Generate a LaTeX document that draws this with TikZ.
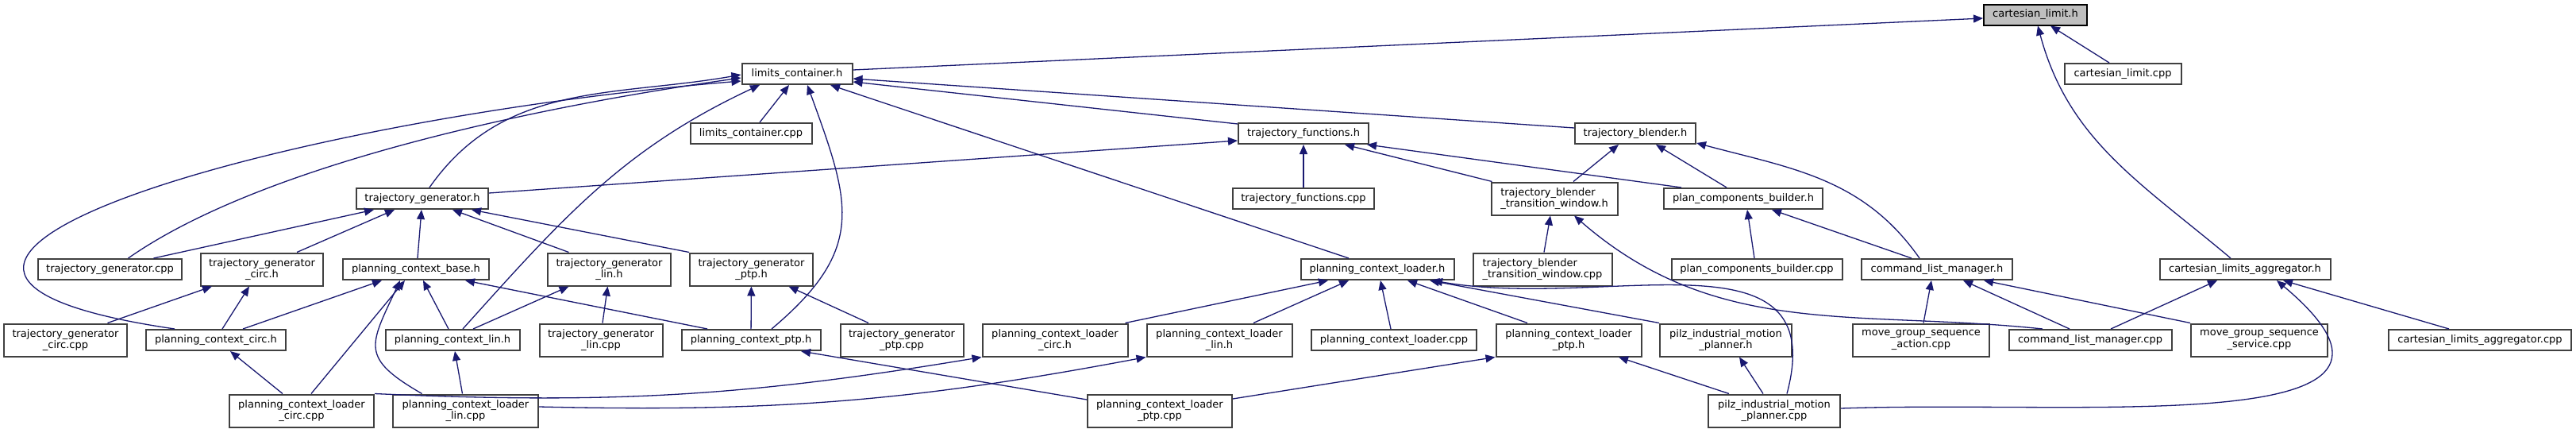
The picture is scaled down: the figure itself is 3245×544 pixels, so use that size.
\documentclass[tikz,border=0pt]{standalone}
\usepackage{fontspec}
\setmainfont{DejaVu Sans}
\usetikzlibrary{arrows.meta}

\definecolor{edgeblue}{HTML}{191970}
\definecolor{rootgray}{HTML}{BFBFBF}
\definecolor{boxline}{HTML}{404040}

\tikzset{
filebox/.style={draw=boxline, line width=2pt, fill=white, minimum height=26pt,
  inner xsep=0pt, inner ysep=2pt, align=center, font=\fontsize{13}{14.5}\selectfont},
twoline/.style={filebox, minimum height=41pt},
rootbox/.style={filebox, draw=black, fill=rootgray},
dep/.style={draw=edgeblue, line width=1.3pt, -{Triangle[length=12pt,width=10pt]}}
}

\begin{document}
\begin{tikzpicture}[x=1pt,y=1pt]

\useasboundingbox (0,0) rectangle (3245,-544);

%%%%%%%%%%%%%%%%%%%%%%%%%%%%%%%%%%%%%%%%%%%%%%%%%%%%%%%%%%
% ROOT AND UPPER HEADERS
%%%%%%%%%%%%%%%%%%%%%%%%%%%%%%%%%%%%%%%%%%%%%%%%%%%%%%%%%%

\node[rootbox, minimum width=130pt](climit) at (2564,-18.5) {cartesian\_limit.h};
\node[filebox, minimum width=139pt](lcont) at (1004,-93) {limits\_container.h};
\node[filebox, minimum width=147pt](climitcpp) at (2674,-93) {cartesian\_limit.cpp};
\node[filebox, minimum width=153pt](lcontcpp) at (946,-168) {limits\_container.cpp};
\node[filebox, minimum width=164pt](tfun) at (1642,-168) {trajectory\_functions.h};
\node[filebox, minimum width=152pt](tblend) at (2060,-168) {trajectory\_blender.h};

%%%%%%%%%%%%%%%%%%%%%%%%%%%%%%%%%%%%%%%%%%%%%%%%%%%%%%%%%%
% GENERATOR / BLENDER LEVEL
%%%%%%%%%%%%%%%%%%%%%%%%%%%%%%%%%%%%%%%%%%%%%%%%%%%%%%%%%%

\node[filebox, minimum width=166pt](tgen) at (532,-250) {trajectory\_generator.h};
\node[filebox, minimum width=178pt](tfuncpp) at (1642,-250) {trajectory\_functions.cpp};
\node[twoline, align=left, minimum width=159pt](tbtw) at (1958,-250) {trajectory\_blender\\\_transition\_window.h};
\node[filebox, minimum width=200pt](pcbld) at (2196,-250) {plan\_components\_builder.h};

%%%%%%%%%%%%%%%%%%%%%%%%%%%%%%%%%%%%%%%%%%%%%%%%%%%%%%%%%%
% CONTEXT LEVEL
%%%%%%%%%%%%%%%%%%%%%%%%%%%%%%%%%%%%%%%%%%%%%%%%%%%%%%%%%%

\node[filebox, minimum width=181pt](tgencpp) at (138.5,-339) {trajectory\_generator.cpp};
\node[twoline, minimum width=154pt](tgcirc) at (330,-339) {trajectory\_generator\\\_circ.h};
\node[filebox, minimum width=184pt](pcbase) at (524,-339) {planning\_context\_base.h};
\node[twoline, minimum width=155pt](tglin) at (767.5,-339) {trajectory\_generator\\\_lin.h};
\node[twoline, minimum width=155pt](tgptp) at (946.5,-339) {trajectory\_generator\\\_ptp.h};
\node[filebox, minimum width=193pt](pcload) at (1735,-339) {planning\_context\_loader.h};
\node[twoline, align=left, minimum width=175pt](tbtwcpp) at (1943,-339) {trajectory\_blender\\\_transition\_window.cpp};
\node[filebox, minimum width=215pt](pcbldcpp) at (2213,-339) {plan\_components\_builder.cpp};
\node[filebox, minimum width=190pt](clman) at (2440,-339) {command\_list\_manager.h};
\node[filebox, minimum width=215pt](cagg) at (2828,-339) {cartesian\_limits\_aggregator.h};

%%%%%%%%%%%%%%%%%%%%%%%%%%%%%%%%%%%%%%%%%%%%%%%%%%%%%%%%%%
% LOADER LEVEL
%%%%%%%%%%%%%%%%%%%%%%%%%%%%%%%%%%%%%%%%%%%%%%%%%%%%%%%%%%

\node[twoline, minimum width=155pt](tgcirccpp) at (82.5,-428) {trajectory\_generator\\\_circ.cpp};
\node[filebox, minimum width=176pt](pccirc) at (272,-428) {planning\_context\_circ.h};
\node[filebox, minimum width=169pt](pclin) at (570,-428) {planning\_context\_lin.h};
\node[twoline, minimum width=155pt](tglincpp) at (757,-428) {trajectory\_generator\\\_lin.cpp};
\node[filebox, minimum width=175pt](pcptp) at (946,-428) {planning\_context\_ptp.h};
\node[twoline, minimum width=155pt](tgptpcpp) at (1136,-428) {trajectory\_generator\\\_ptp.cpp};
\node[twoline, minimum width=183pt](pclcirc) at (1329,-428) {planning\_context\_loader\\\_circ.h};
\node[twoline, minimum width=183pt](pcllin) at (1536,-428) {planning\_context\_loader\\\_lin.h};
\node[filebox, minimum width=208pt](pcloadcpp) at (1756,-428) {planning\_context\_loader.cpp};
\node[twoline, minimum width=183pt](pclptp) at (1976,-428) {planning\_context\_loader\\\_ptp.h};
\node[twoline, minimum width=166pt](pimp) at (2174,-428) {pilz\_industrial\_motion\\\_planner.h};
\node[twoline, minimum width=172pt](msact) at (2420,-428) {move\_group\_sequence\\\_action.cpp};
\node[filebox, minimum width=205pt](clmancpp) at (2633,-428) {command\_list\_manager.cpp};
\node[twoline, minimum width=172pt](mgsrv) at (2846,-428) {move\_group\_sequence\\\_service.cpp};
\node[filebox, minimum width=230pt](caggcpp) at (3124,-428) {cartesian\_limits\_aggregator.cpp};

%%%%%%%%%%%%%%%%%%%%%%%%%%%%%%%%%%%%%%%%%%%%%%%%%%%%%%%%%%
% BOTTOM SOURCES
%%%%%%%%%%%%%%%%%%%%%%%%%%%%%%%%%%%%%%%%%%%%%%%%%%%%%%%%%%

\node[twoline, minimum width=182pt](pclcirccpp) at (380,-517) {planning\_context\_loader\\\_circ.cpp};
\node[twoline, minimum width=183pt](pcllincpp) at (586.5,-517) {planning\_context\_loader\\\_lin.cpp};
\node[twoline, minimum width=182pt](pclptpcpp) at (1461,-517) {planning\_context\_loader\\\_ptp.cpp};
\node[twoline, minimum width=166pt](pimpcpp) at (2235,-517) {pilz\_industrial\_motion\\\_planner.cpp};

%%%%%%%%%%%%%%%%%%%%%%%%%%%%%%%%%%%%%%%%%%%%%%%%%%%%%%%%%%
% INCLUDES
%%%%%%%%%%%%%%%%%%%%%%%%%%%%%%%%%%%%%%%%%%%%%%%%%%%%%%%%%%

% cartesian_limit.h
\draw[dep] ([yshift=5pt]lcont.east) -- ([yshift=-4.5pt]climit.west);
\draw[dep] ([xshift=-17pt]climitcpp.north) -- ([xshift=19pt]climit.south);
\draw[dep] ([xshift=-18pt]cagg.north) to[out=140,in=-75] ([xshift=3pt]climit.south);

% limits_container.h
\draw[dep] ([xshift=11pt]lcontcpp.north) -- ([xshift=-10pt]lcont.south);
\draw[dep] ([yshift=-2pt]tfun.north west) -- ([yshift=-10pt]lcont.east);
\draw[dep] ([yshift=7pt]tblend.west) -- ([yshift=-6pt]lcont.east);
\draw[dep] ([xshift=-36pt]pcload.north) -- ([xshift=42pt]lcont.south);
\draw[dep] ([xshift=26pt]pcptp.north) to[out=40,in=-70,looseness=1.3] ([xshift=13pt]lcont.south);
\draw[dep] ([xshift=9pt]tgen.north) to[out=55,in=190] ([yshift=-1pt]lcont.west);
\draw[dep] ([xshift=23pt]tgencpp.north) to[out=35,in=-172,looseness=0.7] ([yshift=-5pt]lcont.west);
\draw[dep] ([xshift=-52pt]pccirc.north) .. controls +(-520,76) and +(-584,-48) .. ([yshift=-9pt]lcont.west);
\draw[dep] ([xshift=13pt]pclin.north) to[out=48,in=-155] ([xshift=-47pt]lcont.south);

% trajectory_functions.h
\draw[dep] (tfuncpp) -- (tfun);
\draw[dep] ([yshift=7pt]tgen.east) -- ([yshift=-9pt]tfun.west);
\draw[dep] ([xshift=2pt]tbtw.north west) -- ([xshift=52pt]tfun.south);
\draw[dep] ([xshift=-78pt]pcbld.north) -- ([xshift=80pt]tfun.south);

% trajectory_blender.h
\draw[dep] ([xshift=24pt]tbtw.north) -- ([xshift=-21pt]tblend.south);
\draw[dep] ([xshift=-21pt]pcbld.north) -- ([xshift=26pt]tblend.south);
\draw[dep] ([xshift=-22pt]clman.north) to[out=125,in=-15] ([yshift=2pt]tblend.south east);

% plan_components_builder.h and trajectory_blender_transition_window.h
\draw[dep] ([xshift=-3pt]pcbldcpp.north) -- ([xshift=5pt]pcbld.south);
\draw[dep] ([xshift=-32pt]clman.north) -- ([xshift=36pt]pcbld.south);
\draw[dep] ([xshift=2pt]tbtwcpp.north) -- ([xshift=-5pt]tbtw.south);
\draw[dep] ([xshift=-60pt]clmancpp.north) to[out=174,in=-41] ([xshift=25pt]tbtw.south);

% planning_context_loader.h
\draw[dep] ([xshift=-4pt]pclcirc.north east) -- ([xshift=-62pt]pcload.south);
\draw[dep] ([xshift=43pt]pcllin.north) -- ([xshift=-36pt]pcload.south);
\draw[dep] ([xshift=-4pt]pcloadcpp.north) -- ([xshift=4pt]pcload.south);
\draw[dep] ([xshift=-52pt]pclptp.north) -- ([xshift=38pt]pcload.south);
\draw[dep] (pimp.north west) -- ([xshift=66pt]pcload.south);
\draw[dep] ([xshift=16pt]pimpcpp.north) to[out=75,in=-10,looseness=1.2] ([xshift=70pt]pcload.south);

% planning_context_base.h
\draw[dep] ([xshift=34pt]pccirc.north) -- ([xshift=-43pt]pcbase.south);
\draw[dep] ([xshift=-5pt]pclin.north) -- ([xshift=9pt]pcbase.south);
\draw[dep] ([xshift=-55pt]pcptp.north) -- ([xshift=62pt]pcbase.south);
\draw[dep] ([xshift=12pt]pclcirccpp.north) -- ([xshift=-14pt]pcbase.south);
\draw[dep] ([xshift=-55pt]pcllincpp.north) to[out=150,in=-115,looseness=1.6] ([xshift=-20pt]pcbase.south);

% trajectory_generator.h
\draw[dep] ([xshift=55pt]tgencpp.north) -- ([xshift=-61pt]tgen.south);
\draw[dep] ([xshift=44pt]tgcirc.north) -- ([xshift=-35pt]tgen.south);
\draw[dep] ([xshift=2pt]pcbase.north) -- ([xshift=-1pt]tgen.south);
\draw[dep] ([xshift=-51pt]tglin.north) -- ([xshift=38pt]tgen.south);
\draw[dep] (tgptp.north west) -- ([xshift=62pt]tgen.south);

% generator variants and contexts
\draw[dep] ([xshift=53pt]tgcirccpp.north) -- ([xshift=-63pt]tgcirc.south);
\draw[dep] ([xshift=8pt]pccirc.north) -- ([xshift=-16pt]tgcirc.south);
\draw[dep] ([xshift=-24pt]pclcirccpp.north) -- ([xshift=18pt]pccirc.south);
\draw[dep] ([xshift=-4pt]pcllincpp.north) -- ([xshift=3pt]pclin.south);
\draw[dep] ([xshift=26pt]pclin.north) -- ([xshift=-51pt]tglin.south);
\draw[dep] ([xshift=2pt]tglincpp.north) -- ([xshift=-2pt]tglin.south);
\draw[dep] (pcptp) -- (tgptp);
\draw[dep] ([xshift=-42pt]tgptpcpp.north) -- ([xshift=47pt]tgptp.south);
\draw[dep] ([yshift=14pt]pclptpcpp.west) -- ([xshift=63pt]pcptp.south);

% loader headers
\draw[dep] (pclcirccpp.north east) to[bend right=6] (pclcirc.south west);
\draw[dep] ([yshift=5pt]pcllincpp.east) to[bend right=6] (pcllin.south west);
\draw[dep] ([yshift=15pt]pclptpcpp.east) -- (pclptp.south west);
\draw[dep] ([xshift=-57pt]pimpcpp.north) -- ([xshift=63pt]pclptp.south);
\draw[dep] ([xshift=-14pt]pimpcpp.north) -- ([xshift=17pt]pimp.south);

% command_list_manager.h and cartesian_limits_aggregator.h
\draw[dep] ([xshift=3pt]msact.north) -- ([xshift=-7pt]clman.south);
\draw[dep] ([xshift=-26pt]clmancpp.north) -- ([xshift=33pt]clman.south);
\draw[dep] (mgsrv.north west) -- ([xshift=59pt]clman.south);
\draw[dep] ([xshift=26pt]clmancpp.north) -- ([xshift=-35pt]cagg.south);
\draw[dep] ([yshift=3pt]pimpcpp.east) to[out=2,in=-40,looseness=1.4] ([xshift=40pt]cagg.south);
\draw[dep] ([xshift=-39pt]caggcpp.north) -- ([xshift=48pt]cagg.south);

\end{tikzpicture}
\end{document}
